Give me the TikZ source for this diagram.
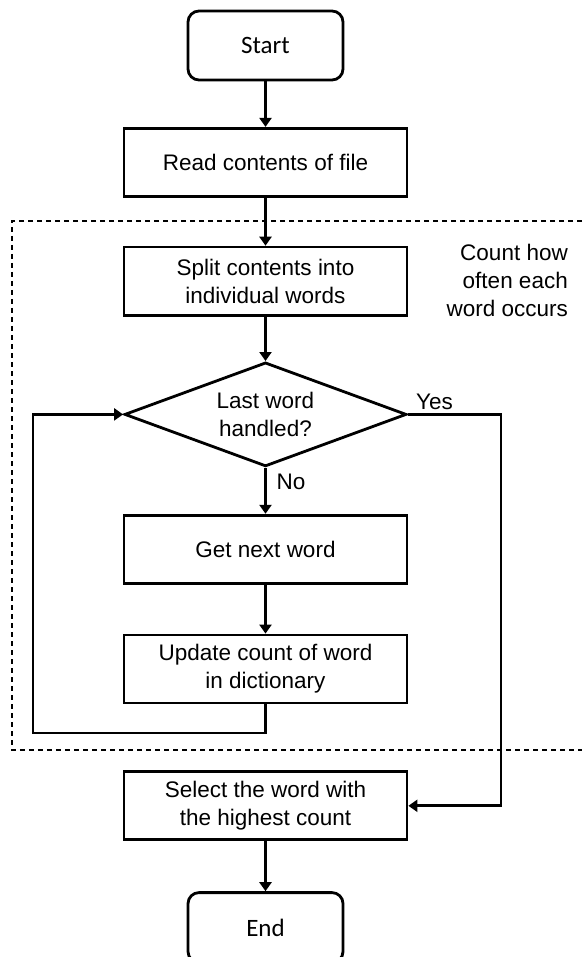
\documentclass[tikz,border=0pt]{standalone}
\usepackage{fontspec}
\setmainfont{Liberation Sans}
\newfontfamily\calibri{Carlito}
\usetikzlibrary{arrows.meta,positioning,shapes.geometric}

\tikzset{
  block/.style={draw,line width=2.8pt,minimum width=283pt,minimum height=68pt,
    inner sep=0pt,align=center,font=\fontsize{22.5}{28}\selectfont},
  terminal/.style={draw,line width=2.8pt,rounded corners=11pt,minimum width=155pt,
    minimum height=69pt,inner sep=0pt,font=\calibri\fontsize{25}{30}\selectfont},
  decision/.style={draw,diamond,aspect=2.7,line width=2.8pt,minimum width=282pt,minimum height=104pt,
    inner sep=0pt,align=center,font=\fontsize{22.5}{28}\selectfont},
  tag/.style={inner sep=0pt,font=\fontsize{22.5}{28}\selectfont},
  flow/.style={line width=2.8pt,-{Triangle[length=9pt,width=12pt]}}
}

\begin{document}
\begin{tikzpicture}[x=1pt,y=-1pt]
    \useasboundingbox (0,0) rectangle (582,957);

    \node[terminal] (start) at (265.5,45.5) {Start};
    \node[block] (read) [below=45.5pt of start] {Read contents of file};
    \node[block] (split) [below=48pt of read] {Split contents into\\individual words};
    \node[decision] (dec) [below=44.5pt of split] {Last word\\handled?};
    \node[block] (get) [below=46pt of dec] {Get next word};
    \node[block] (upd) [below=49pt of get] {Update count of word\\in dictionary};
    \node[block] (sel) [below=66pt of upd] {Select the word with\\the highest count};
    \node[terminal,minimum height=70pt] (end) [below=50pt of sel] {End};

    % dashed region
    \draw[line width=1.2pt,dash pattern=on 5pt off 4pt] (582,221) -- (12,221) -- (12,750) -- (582,750);
    \node[tag,anchor=east,align=right] (note) at (568,280) {Count how\\often each\\word occurs};

    \coordinate (back) at (33,733);
    \coordinate (yesturn) at ([xshift=93pt]dec.east);

    \draw[flow] (start) -- (read);
    \draw[flow] (read) -- (split);
    \draw[flow] (split) -- (dec);
    \draw[flow] (dec) -- (get);
    \draw[flow] (get) -- (upd);
    \draw[flow] (upd.south) |- (back) |- (dec.west);
    \draw[flow] (dec.east) -- (yesturn) |- (sel.east);
    \draw[flow] (sel) -- (end);

    \node[tag,anchor=west] (yes) at ([xshift=8pt,yshift=13pt]dec.east) {Yes};
    \node[tag,anchor=west] (no) at ([xshift=11pt,yshift=-14pt]dec.south) {No};
\end{tikzpicture}
\end{document}
